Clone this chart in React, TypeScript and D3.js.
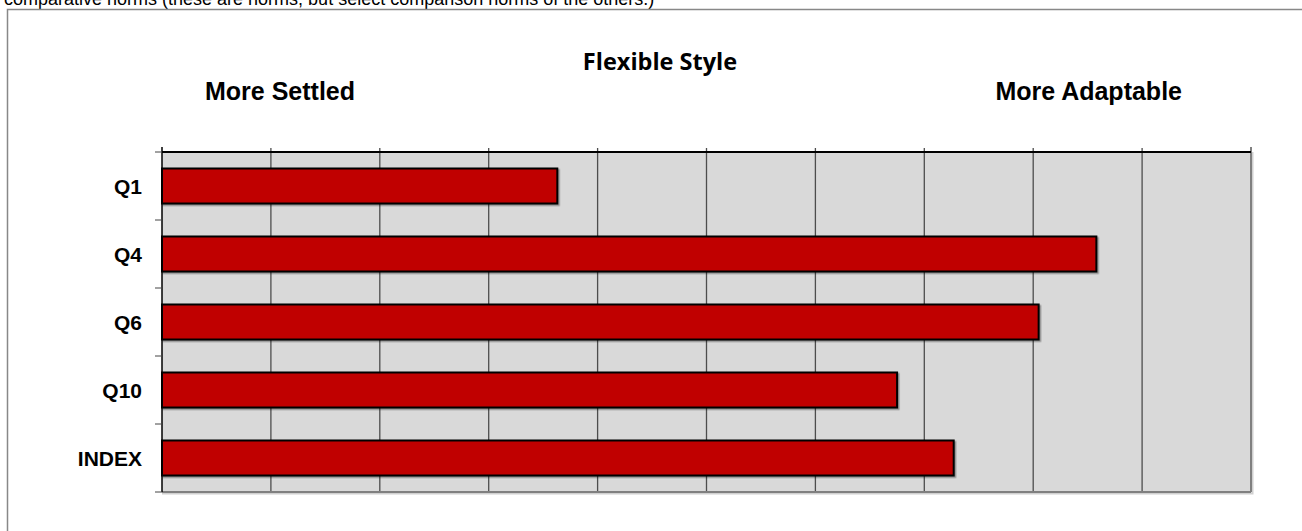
import React from "react";
import * as d3 from "d3";

const categories = ["Q1", "Q4", "Q6", "Q10", "INDEX"];
const values = [3.63, 8.58, 8.05, 6.75, 7.27];
const xTicks = [0, 1, 2, 3, 4, 5, 6, 7, 8, 9, 10];
const title = "Flexible Style";
const leftLabel = "More Settled";
const rightLabel = "More Adaptable";
const topNote = "comparative norms (these are norms, but select comparison norms of the others.)";

const W = 1302;
const H = 531;
const plot = { left: 162, right: 1251, top: 152, bottom: 492 };

export default function App() {
  const x = d3.scaleLinear().domain([0, 10]).range([plot.left, plot.right]);
  const y = d3
    .scaleBand<string>()
    .domain(categories)
    .range([plot.top, plot.bottom])
    .paddingInner(0.485)
    .paddingOuter(0.2425);
  const band = (plot.bottom - plot.top) / categories.length;
  const bounds = d3.range(categories.length + 1).map((i) => plot.top + i * band);

  return (
    <div style={{ position: "absolute", left: 0, top: 0, width: W, height: H, background: "#fff" }}>
      <svg width={W} height={H} style={{ display: "block" }}>
        <defs>
          <filter id="sh" x="-5%" y="-20%" width="110%" height="150%">
            <feDropShadow dx="1.5" dy="1.5" stdDeviation="0.6" floodColor="#000" floodOpacity="0.35" />
          </filter>
        </defs>
        <text x={4} y={5} fontFamily="Liberation Sans, Arial, sans-serif" fontSize={18} fill="#000">
          {topNote}
        </text>
        {/* outer frame */}
        <path d={`M7.5,${H} V9.5 H${W}`} fill="none" stroke="#888" strokeWidth={1.5} />
        <text
          x={660}
          y={70}
          textAnchor="middle"
          fontFamily="Open Sans, Lato, sans-serif"
          fontWeight="bold"
          fontSize={23.5}
          fill="#000"
        >
          {title}
        </text>
        <text x={205} y={100} fontFamily="Liberation Sans, Arial, sans-serif" fontWeight="bold" fontSize={25} fill="#000">
          {leftLabel}
        </text>
        <text x={1182} y={100} textAnchor="end" fontFamily="Liberation Sans, Arial, sans-serif" fontWeight="bold" fontSize={25} fill="#000">
          {rightLabel}
        </text>
        {/* plot background */}
        <rect
          x={plot.left}
          y={plot.top}
          width={plot.right - plot.left}
          height={plot.bottom - plot.top}
          fill="#d9d9d9"
        />
        {/* shadow right/bottom of plot */}
        <path
          d={`M${plot.right + 1.5},${plot.top} V${plot.bottom + 1.5} H${plot.left}`}
          fill="none"
          stroke="#d0d0d0"
          strokeWidth={2}
        />
        {xTicks.slice(1, -1).map((t) => (
          <line key={t} x1={x(t)} x2={x(t)} y1={plot.top - 4} y2={plot.bottom} stroke="#4d4d4d" strokeWidth={1.3} />
        ))}
        <line x1={plot.right} x2={plot.right} y1={plot.top - 5} y2={plot.bottom} stroke="#808080" strokeWidth={2} />
        <line x1={plot.left} x2={plot.right} y1={plot.bottom} y2={plot.bottom} stroke="#808080" strokeWidth={2} />
        <line x1={plot.left} x2={plot.right} y1={plot.top} y2={plot.top} stroke="#000" strokeWidth={2} />
        {/* category axis */}
        <line x1={plot.left} x2={plot.left} y1={plot.top - 5} y2={plot.bottom} stroke="#000" strokeWidth={1.5} />
        {bounds.map((b, i) => (
          <line key={"yt" + i} x1={plot.left - 7} x2={plot.left} y1={b} y2={b} stroke="#444" strokeWidth={1} />
        ))}
        {/* bars */}
        {categories.map((c, i) => (
          <rect
            key={c}
            x={x(0)}
            y={y(c)!}
            width={x(values[i]) - x(0)}
            height={y.bandwidth()}
            fill="#c00000"
            stroke="#000"
            strokeWidth={2}
            filter="url(#sh)"
          />
        ))}
        {categories.map((c) => (
          <text
            key={"l" + c}
            x={142}
            y={y(c)! + y.bandwidth() / 2}
            dy="0.36em"
            textAnchor="end"
            fontFamily="Liberation Sans, Arial, sans-serif"
            fontWeight="bold"
            fontSize={21}
            fill="#000"
          >
            {c}
          </text>
        ))}
      </svg>
    </div>
  );
}
